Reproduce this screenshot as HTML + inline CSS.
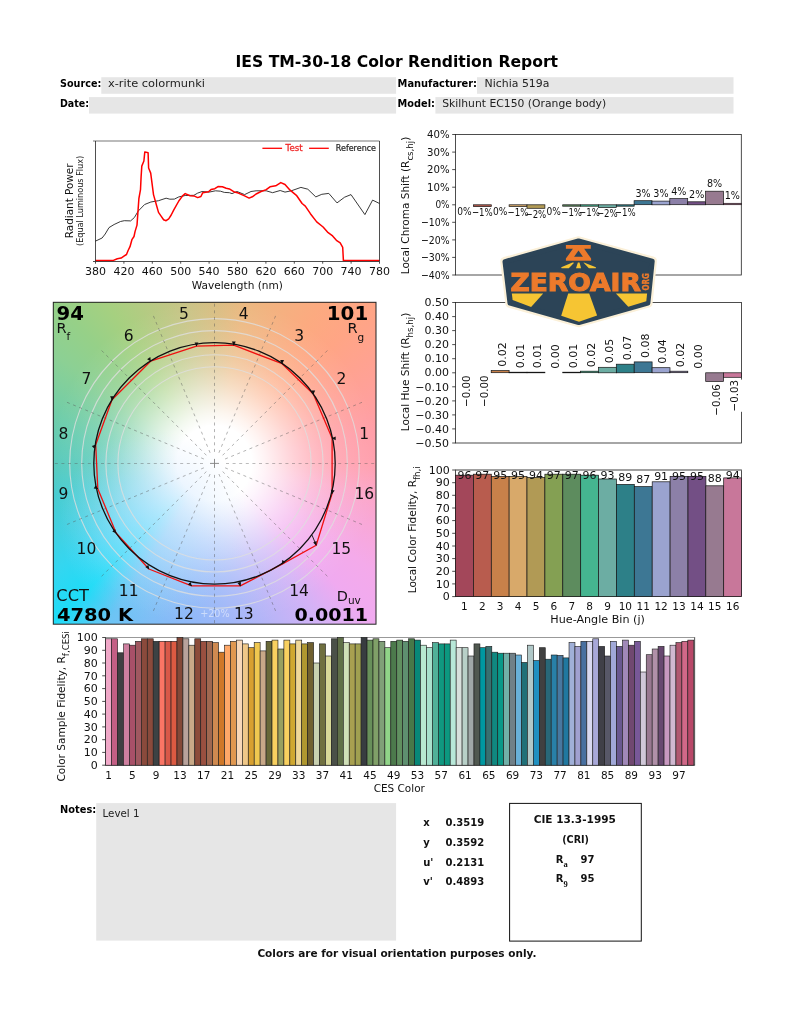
<!DOCTYPE html>
<html lang="en"><head><meta charset="utf-8"><title>IES TM-30-18 Color Rendition Report</title>
<style>
html,body{margin:0;padding:0;background:#fff}
#page{position:relative;width:793px;height:1024px;overflow:hidden;background:#fff;font-family:"DejaVu Sans", "Liberation Sans", sans-serif}
#cvgbg{position:absolute;left:53.3px;top:302.3px;width:322.7px;height:321.9px;
background:
 radial-gradient(circle at 31% 69%, rgba(190,222,255,0.5) 0, rgba(190,222,255,0.38) 12%, rgba(190,222,255,0.15) 22%, rgba(190,222,255,0) 30%),
 radial-gradient(circle at 50% 50%, rgba(255,255,255,1) 0, rgba(255,255,255,1) 16.5%, rgba(255,255,255,0.88) 22%, rgba(255,255,255,0.7) 28.5%, rgba(255,255,255,0.52) 35%, rgba(255,255,255,0.35) 42%, rgba(255,255,255,0.22) 48.3%, rgba(255,255,255,0.12) 55%, rgba(255,255,255,0.05) 63.5%, rgba(255,255,255,0) 72.5%),
 conic-gradient(from 0deg at 50% 50%, #d8be82 0deg, #ecb880 11deg, #fcaa80 34deg, #ffa585 45deg, #ffa290 56deg, #ff9ea8 79deg, #ffa0ae 90deg, #fca6c8 101deg, #f4aaea 124deg, #f0aaf0 135deg, #d4b2f6 146deg, #a8b6f8 169deg, #98b6f8 180deg, #8cb8f8 191deg, #80bef6 202deg, #6cc4f4 214deg, #1edcf7 225deg, #34d6f0 236deg, #42d0e0 247deg, #48ccd0 259deg, #58cabc 270deg, #66ccb0 281deg, #8cd094 304deg, #96d088 315deg, #a6d080 326deg, #c8c486 349deg, #d8be82 360deg);}
svg text{font-family:"DejaVu Sans", "Liberation Sans", sans-serif}
</style></head><body>
<div id="page">
<div id="cvgbg"></div>
<svg width="793" height="1024" viewBox="0 0 793 1024" style="position:absolute;left:0;top:0">
<text x="396.80" y="66.50" font-size="16" font-weight="bold" text-anchor="middle" fill="#000" textLength="322.50" lengthAdjust="spacingAndGlyphs">IES TM-30-18 Color Rendition Report</text>
<rect x="101.3" y="77.2" width="294.8" height="16.6" fill="#e6e6e6"/>
<rect x="89" y="97.1" width="307.1" height="16.5" fill="#e6e6e6"/>
<text x="60.00" y="87.00" font-size="11" font-weight="bold" text-anchor="start" fill="#000" textLength="41.30" lengthAdjust="spacingAndGlyphs">Source:</text>
<text x="60.00" y="106.80" font-size="11" font-weight="bold" text-anchor="start" fill="#000" textLength="29.00" lengthAdjust="spacingAndGlyphs">Date:</text>
<text x="108.00" y="87.00" font-size="11" font-weight="normal" text-anchor="start" fill="#222" textLength="97.00" lengthAdjust="spacingAndGlyphs">x-rite colormunki</text>
<rect x="477" y="77.2" width="256.5" height="16.6" fill="#e6e6e6"/>
<rect x="435.4" y="97.1" width="298.1" height="16.5" fill="#e6e6e6"/>
<text x="397.60" y="87.10" font-size="11" font-weight="bold" text-anchor="start" fill="#000" textLength="79.40" lengthAdjust="spacingAndGlyphs">Manufacturer:</text>
<text x="397.60" y="106.90" font-size="11" font-weight="bold" text-anchor="start" fill="#000" textLength="37.30" lengthAdjust="spacingAndGlyphs">Model:</text>
<text x="484.60" y="87.10" font-size="11" font-weight="normal" text-anchor="start" fill="#222" textLength="64.80" lengthAdjust="spacingAndGlyphs">Nichia 519a</text>
<text x="442.20" y="106.90" font-size="11" font-weight="normal" text-anchor="start" fill="#222" textLength="164.00" lengthAdjust="spacingAndGlyphs">Skilhunt EC150 (Orange body)</text>
<rect x="95.5" y="141.0" width="284.0" height="120.5" fill="#fff" stroke="none"/>
<polyline points="95.3,241.2 102.1,238.0 105.2,234.0 109.0,227.6 114.1,224.5 120.5,221.5 124.3,220.7 130.6,220.9 134.4,217.5 138.2,211.1 144.6,204.5 150.9,202.0 158.5,200.7 166.1,198.2 169.9,199.2 174.4,199.1 178.8,196.9 185.2,195.5 193.9,195.3 197.7,193.1 202.1,191.5 209.1,192.1 215.5,190.8 220.5,191.2 224.3,192.4 229.4,192.7 232.0,193.6 237.0,191.5 244.6,194.6 251.0,191.5 256.1,190.8 266.2,190.8 272.6,192.7 280.2,190.5 285.0,192.1 291.3,190.8 300.9,187.4 307.8,189.2 315.8,196.9 321.8,194.3 328.8,193.4 337.0,202.9 344.6,197.2 351.0,194.6 364.9,214.6 372.6,200.1 379.5,203.5" fill="none" stroke="#222" stroke-width="0.9"/>
<polyline points="95.3,260.6 112.8,260.6 117.3,258.7 121.1,258.1 124.3,255.9 126.5,254.5 128.1,250.5 130.0,246.7 131.9,239.7 134.0,236.5 135.1,231.4 137.0,225.1 138.0,211.1 138.9,198.5 140.5,189.6 141.1,176.9 141.8,166.1 143.9,161.0 144.8,151.9 148.1,152.8 148.6,168.0 150.7,173.1 153.5,194.6 156.0,203.5 158.5,212.4 161.1,216.2 163.6,219.8 166.1,220.7 168.7,218.8 171.2,215.0 173.8,209.9 178.8,201.0 182.6,195.9 185.2,193.6 190.1,195.7 193.9,195.9 197.7,197.6 200.9,196.5 202.8,192.7 208.5,191.7 211.0,189.6 214.8,188.7 218.0,186.6 222.4,186.8 226.2,188.3 229.4,188.9 234.5,192.1 238.3,193.1 244.6,195.9 249.1,198.1 252.3,196.8 256.1,194.0 261.1,191.5 266.2,189.6 270.0,186.8 275.7,185.8 280.8,182.6 285.0,184.5 290.1,190.2 296.4,195.3 302.1,203.5 305.3,206.1 310.4,213.7 316.7,221.9 323.1,227.0 327.5,232.1 332.6,235.9 336.4,240.3 340.2,242.9 342.7,247.3 343.4,260.6 379.5,260.6" fill="none" stroke="#f00" stroke-width="1.5" stroke-linejoin="round"/>
<line x1="93.0" y1="141.0" x2="379.5" y2="141.0" stroke="#a4a4a4" stroke-width="1.6"/>
<path d="M95.5,141.0V261.5H379.5V141.0" fill="none" stroke="#222" stroke-width="0.8"/>
<line x1="93.0" y1="261.5" x2="95.5" y2="261.5" stroke="#222" stroke-width="0.8"/>
<line x1="95.5" y1="261.5" x2="95.5" y2="263.7" stroke="#222" stroke-width="0.8"/>
<text x="95.50" y="275.30" font-size="11" font-weight="normal" text-anchor="middle" fill="#111">380</text>
<line x1="123.9" y1="261.5" x2="123.9" y2="263.7" stroke="#222" stroke-width="0.8"/>
<text x="123.90" y="275.30" font-size="11" font-weight="normal" text-anchor="middle" fill="#111">420</text>
<line x1="152.3" y1="261.5" x2="152.3" y2="263.7" stroke="#222" stroke-width="0.8"/>
<text x="152.30" y="275.30" font-size="11" font-weight="normal" text-anchor="middle" fill="#111">460</text>
<line x1="180.7" y1="261.5" x2="180.7" y2="263.7" stroke="#222" stroke-width="0.8"/>
<text x="180.70" y="275.30" font-size="11" font-weight="normal" text-anchor="middle" fill="#111">500</text>
<line x1="209.1" y1="261.5" x2="209.1" y2="263.7" stroke="#222" stroke-width="0.8"/>
<text x="209.10" y="275.30" font-size="11" font-weight="normal" text-anchor="middle" fill="#111">540</text>
<line x1="237.5" y1="261.5" x2="237.5" y2="263.7" stroke="#222" stroke-width="0.8"/>
<text x="237.50" y="275.30" font-size="11" font-weight="normal" text-anchor="middle" fill="#111">580</text>
<line x1="265.9" y1="261.5" x2="265.9" y2="263.7" stroke="#222" stroke-width="0.8"/>
<text x="265.90" y="275.30" font-size="11" font-weight="normal" text-anchor="middle" fill="#111">620</text>
<line x1="294.3" y1="261.5" x2="294.3" y2="263.7" stroke="#222" stroke-width="0.8"/>
<text x="294.30" y="275.30" font-size="11" font-weight="normal" text-anchor="middle" fill="#111">660</text>
<line x1="322.7" y1="261.5" x2="322.7" y2="263.7" stroke="#222" stroke-width="0.8"/>
<text x="322.70" y="275.30" font-size="11" font-weight="normal" text-anchor="middle" fill="#111">700</text>
<line x1="351.1" y1="261.5" x2="351.1" y2="263.7" stroke="#222" stroke-width="0.8"/>
<text x="351.10" y="275.30" font-size="11" font-weight="normal" text-anchor="middle" fill="#111">740</text>
<line x1="379.5" y1="261.5" x2="379.5" y2="263.7" stroke="#222" stroke-width="0.8"/>
<text x="379.50" y="275.30" font-size="11" font-weight="normal" text-anchor="middle" fill="#111">780</text>
<text x="237.30" y="288.60" font-size="11" font-weight="normal" text-anchor="middle" fill="#111" textLength="91.30" lengthAdjust="spacingAndGlyphs">Wavelength (nm)</text>
<text transform="translate(72.90,200.80) rotate(-90)" font-size="11" font-weight="normal" text-anchor="middle" fill="#111" textLength="74.70" lengthAdjust="spacingAndGlyphs">Radiant Power</text>
<text transform="translate(83.20,200.90) rotate(-90)" font-size="8.5" font-weight="normal" text-anchor="middle" fill="#111" textLength="90.20" lengthAdjust="spacingAndGlyphs">(Equal Luminous Flux)</text>
<line x1="262.4" y1="148.3" x2="282.1" y2="148.3" stroke="#f00" stroke-width="1.3"/>
<text x="285.60" y="151.10" font-size="8.5" font-weight="normal" text-anchor="start" fill="#f02a2a" textLength="17.00" lengthAdjust="spacingAndGlyphs" stroke="#f02a2a" stroke-width="0.3">Test</text>
<line x1="309.1" y1="148.3" x2="328.8" y2="148.3" stroke="#f00" stroke-width="1.3"/>
<text x="335.80" y="151.10" font-size="8.5" font-weight="normal" text-anchor="start" fill="#222" textLength="40.20" lengthAdjust="spacingAndGlyphs" stroke="#222" stroke-width="0.2">Reference</text>
<rect x="455.5" y="134.5" width="285.8" height="140.5" fill="#fff" stroke="#222" stroke-width="0.8"/>
<line x1="452.2" y1="134.5" x2="455.5" y2="134.5" stroke="#222" stroke-width="0.8"/>
<text x="449.60" y="138.20" font-size="11" font-weight="normal" text-anchor="end" fill="#111" textLength="22.60" lengthAdjust="spacingAndGlyphs">40%</text>
<line x1="452.2" y1="152.1" x2="455.5" y2="152.1" stroke="#222" stroke-width="0.8"/>
<text x="449.60" y="155.76" font-size="11" font-weight="normal" text-anchor="end" fill="#111" textLength="22.60" lengthAdjust="spacingAndGlyphs">30%</text>
<line x1="452.2" y1="169.6" x2="455.5" y2="169.6" stroke="#222" stroke-width="0.8"/>
<text x="449.60" y="173.32" font-size="11" font-weight="normal" text-anchor="end" fill="#111" textLength="22.60" lengthAdjust="spacingAndGlyphs">20%</text>
<line x1="452.2" y1="187.2" x2="455.5" y2="187.2" stroke="#222" stroke-width="0.8"/>
<text x="449.60" y="190.89" font-size="11" font-weight="normal" text-anchor="end" fill="#111" textLength="22.60" lengthAdjust="spacingAndGlyphs">10%</text>
<line x1="452.2" y1="204.8" x2="455.5" y2="204.8" stroke="#222" stroke-width="0.8"/>
<text x="449.60" y="208.45" font-size="11" font-weight="normal" text-anchor="end" fill="#111" textLength="14.20" lengthAdjust="spacingAndGlyphs">0%</text>
<line x1="452.2" y1="222.3" x2="455.5" y2="222.3" stroke="#222" stroke-width="0.8"/>
<text x="449.60" y="226.01" font-size="11" font-weight="normal" text-anchor="end" fill="#111" textLength="28.60" lengthAdjust="spacingAndGlyphs">−10%</text>
<line x1="452.2" y1="239.9" x2="455.5" y2="239.9" stroke="#222" stroke-width="0.8"/>
<text x="449.60" y="243.57" font-size="11" font-weight="normal" text-anchor="end" fill="#111" textLength="28.60" lengthAdjust="spacingAndGlyphs">−20%</text>
<line x1="452.2" y1="257.4" x2="455.5" y2="257.4" stroke="#222" stroke-width="0.8"/>
<text x="449.60" y="261.14" font-size="11" font-weight="normal" text-anchor="end" fill="#111" textLength="28.60" lengthAdjust="spacingAndGlyphs">−30%</text>
<line x1="452.2" y1="275.0" x2="455.5" y2="275.0" stroke="#222" stroke-width="0.8"/>
<text x="449.60" y="278.70" font-size="11" font-weight="normal" text-anchor="end" fill="#111" textLength="28.60" lengthAdjust="spacingAndGlyphs">−40%</text>
<text x="464.43" y="214.75" font-size="11" font-weight="normal" text-anchor="middle" fill="#111" textLength="14.40" lengthAdjust="spacingAndGlyphs">0%</text>
<rect x="473.4" y="204.8" width="17.9" height="1.8" fill="#b85c4e" stroke="#151515" stroke-width="0.7"/>
<text x="482.29" y="215.91" font-size="11" font-weight="normal" text-anchor="middle" fill="#111" textLength="20.80" lengthAdjust="spacingAndGlyphs">−1%</text>
<text x="500.16" y="214.75" font-size="11" font-weight="normal" text-anchor="middle" fill="#111" textLength="14.40" lengthAdjust="spacingAndGlyphs">0%</text>
<rect x="509.1" y="204.8" width="17.9" height="1.8" fill="#d8a96a" stroke="#151515" stroke-width="0.7"/>
<text x="518.02" y="215.91" font-size="11" font-weight="normal" text-anchor="middle" fill="#111" textLength="20.80" lengthAdjust="spacingAndGlyphs">−1%</text>
<rect x="527.0" y="204.8" width="17.9" height="3.5" fill="#b19a55" stroke="#151515" stroke-width="0.7"/>
<text x="535.88" y="217.66" font-size="11" font-weight="normal" text-anchor="middle" fill="#111" textLength="20.80" lengthAdjust="spacingAndGlyphs">−2%</text>
<text x="553.74" y="214.75" font-size="11" font-weight="normal" text-anchor="middle" fill="#111" textLength="14.40" lengthAdjust="spacingAndGlyphs">0%</text>
<rect x="562.7" y="204.8" width="17.9" height="1.4" fill="#5d8c5e" stroke="#151515" stroke-width="0.7"/>
<text x="571.61" y="215.56" font-size="11" font-weight="normal" text-anchor="middle" fill="#111" textLength="20.80" lengthAdjust="spacingAndGlyphs">−1%</text>
<rect x="580.5" y="204.8" width="17.9" height="1.4" fill="#45b590" stroke="#151515" stroke-width="0.7"/>
<text x="589.47" y="215.56" font-size="11" font-weight="normal" text-anchor="middle" fill="#111" textLength="20.80" lengthAdjust="spacingAndGlyphs">−1%</text>
<rect x="598.4" y="204.8" width="17.9" height="2.8" fill="#6cada3" stroke="#151515" stroke-width="0.7"/>
<text x="607.33" y="216.96" font-size="11" font-weight="normal" text-anchor="middle" fill="#111" textLength="20.80" lengthAdjust="spacingAndGlyphs">−2%</text>
<rect x="616.3" y="204.8" width="17.9" height="1.4" fill="#2d8088" stroke="#151515" stroke-width="0.7"/>
<text x="625.19" y="215.56" font-size="11" font-weight="normal" text-anchor="middle" fill="#111" textLength="20.80" lengthAdjust="spacingAndGlyphs">−1%</text>
<rect x="634.1" y="200.7" width="17.9" height="4.0" fill="#3d7794" stroke="#151515" stroke-width="0.7"/>
<text x="643.06" y="196.81" font-size="11" font-weight="normal" text-anchor="middle" fill="#111" textLength="15.20" lengthAdjust="spacingAndGlyphs">3%</text>
<rect x="652.0" y="201.1" width="17.9" height="3.7" fill="#9aa3cf" stroke="#151515" stroke-width="0.7"/>
<text x="660.92" y="197.16" font-size="11" font-weight="normal" text-anchor="middle" fill="#111" textLength="15.20" lengthAdjust="spacingAndGlyphs">3%</text>
<rect x="669.8" y="198.6" width="17.9" height="6.1" fill="#8c80a8" stroke="#151515" stroke-width="0.7"/>
<text x="678.78" y="194.70" font-size="11" font-weight="normal" text-anchor="middle" fill="#111" textLength="15.20" lengthAdjust="spacingAndGlyphs">4%</text>
<rect x="687.7" y="201.8" width="17.9" height="3.0" fill="#734f85" stroke="#151515" stroke-width="0.7"/>
<text x="696.64" y="197.86" font-size="11" font-weight="normal" text-anchor="middle" fill="#111" textLength="15.20" lengthAdjust="spacingAndGlyphs">2%</text>
<rect x="705.6" y="191.2" width="17.9" height="13.5" fill="#977a90" stroke="#151515" stroke-width="0.7"/>
<text x="714.51" y="187.33" font-size="11" font-weight="normal" text-anchor="middle" fill="#111" textLength="15.20" lengthAdjust="spacingAndGlyphs">8%</text>
<rect x="723.4" y="203.3" width="17.9" height="1.4" fill="#c8779a" stroke="#151515" stroke-width="0.7"/>
<text x="732.37" y="199.44" font-size="11" font-weight="normal" text-anchor="middle" fill="#111" textLength="15.20" lengthAdjust="spacingAndGlyphs">1%</text>
<text transform="translate(409.00,205.50) rotate(-90)" font-size="11" font-weight="normal" text-anchor="middle" fill="#111" textLength="137.50" lengthAdjust="spacingAndGlyphs">Local Chroma Shift (R<tspan font-size="9" dy="3.6">cs,hj</tspan><tspan dy="-3.6">)</tspan></text>
<rect x="455.5" y="302.5" width="285.9" height="140.5" fill="#fff" stroke="#222" stroke-width="0.8"/>
<line x1="452.2" y1="302.5" x2="455.5" y2="302.5" stroke="#222" stroke-width="0.8"/>
<text x="448.90" y="306.20" font-size="11" font-weight="normal" text-anchor="end" fill="#111">0.50</text>
<line x1="452.2" y1="316.6" x2="455.5" y2="316.6" stroke="#222" stroke-width="0.8"/>
<text x="448.90" y="320.25" font-size="11" font-weight="normal" text-anchor="end" fill="#111">0.40</text>
<line x1="452.2" y1="330.6" x2="455.5" y2="330.6" stroke="#222" stroke-width="0.8"/>
<text x="448.90" y="334.30" font-size="11" font-weight="normal" text-anchor="end" fill="#111">0.30</text>
<line x1="452.2" y1="344.6" x2="455.5" y2="344.6" stroke="#222" stroke-width="0.8"/>
<text x="448.90" y="348.35" font-size="11" font-weight="normal" text-anchor="end" fill="#111">0.20</text>
<line x1="452.2" y1="358.7" x2="455.5" y2="358.7" stroke="#222" stroke-width="0.8"/>
<text x="448.90" y="362.40" font-size="11" font-weight="normal" text-anchor="end" fill="#111">0.10</text>
<line x1="452.2" y1="372.8" x2="455.5" y2="372.8" stroke="#222" stroke-width="0.8"/>
<text x="448.90" y="376.45" font-size="11" font-weight="normal" text-anchor="end" fill="#111">0.00</text>
<line x1="452.2" y1="386.8" x2="455.5" y2="386.8" stroke="#222" stroke-width="0.8"/>
<text x="448.90" y="390.50" font-size="11" font-weight="normal" text-anchor="end" fill="#111">−0.10</text>
<line x1="452.2" y1="400.9" x2="455.5" y2="400.9" stroke="#222" stroke-width="0.8"/>
<text x="448.90" y="404.55" font-size="11" font-weight="normal" text-anchor="end" fill="#111">−0.20</text>
<line x1="452.2" y1="414.9" x2="455.5" y2="414.9" stroke="#222" stroke-width="0.8"/>
<text x="448.90" y="418.60" font-size="11" font-weight="normal" text-anchor="end" fill="#111">−0.30</text>
<line x1="452.2" y1="428.9" x2="455.5" y2="428.9" stroke="#222" stroke-width="0.8"/>
<text x="448.90" y="432.65" font-size="11" font-weight="normal" text-anchor="end" fill="#111">−0.40</text>
<line x1="452.2" y1="443.0" x2="455.5" y2="443.0" stroke="#222" stroke-width="0.8"/>
<text x="448.90" y="446.70" font-size="11" font-weight="normal" text-anchor="end" fill="#111">−0.50</text>
<text transform="translate(469.93,375.55) rotate(-90)" font-size="11" font-weight="normal" text-anchor="end" fill="#111" textLength="31.40" lengthAdjust="spacingAndGlyphs">−0.00</text>
<text transform="translate(487.80,375.55) rotate(-90)" font-size="11" font-weight="normal" text-anchor="end" fill="#111" textLength="31.40" lengthAdjust="spacingAndGlyphs">−0.00</text>
<rect x="491.2" y="370.6" width="17.9" height="2.1" fill="#c8814a" stroke="#151515" stroke-width="0.7"/>
<text transform="translate(505.67,366.64) rotate(-90)" font-size="11" font-weight="normal" text-anchor="start" fill="#111">0.02</text>
<rect x="509.1" y="372.2" width="17.9" height="0.6" fill="#d8a96a" stroke="#151515" stroke-width="0.7"/>
<text transform="translate(523.54,368.19) rotate(-90)" font-size="11" font-weight="normal" text-anchor="start" fill="#111">0.01</text>
<rect x="527.0" y="372.2" width="17.9" height="0.6" fill="#b19a55" stroke="#151515" stroke-width="0.7"/>
<text transform="translate(541.41,368.19) rotate(-90)" font-size="11" font-weight="normal" text-anchor="start" fill="#111">0.01</text>
<text transform="translate(559.28,368.75) rotate(-90)" font-size="11" font-weight="normal" text-anchor="start" fill="#111">0.00</text>
<rect x="562.7" y="372.2" width="17.9" height="0.6" fill="#5d8c5e" stroke="#151515" stroke-width="0.7"/>
<text transform="translate(577.15,368.19) rotate(-90)" font-size="11" font-weight="normal" text-anchor="start" fill="#111">0.01</text>
<rect x="580.6" y="371.2" width="17.9" height="1.5" fill="#45b590" stroke="#151515" stroke-width="0.7"/>
<text transform="translate(595.02,367.20) rotate(-90)" font-size="11" font-weight="normal" text-anchor="start" fill="#111">0.02</text>
<rect x="598.5" y="367.3" width="17.9" height="5.5" fill="#6cada3" stroke="#151515" stroke-width="0.7"/>
<text transform="translate(612.88,363.27) rotate(-90)" font-size="11" font-weight="normal" text-anchor="start" fill="#111">0.05</text>
<rect x="616.3" y="364.2" width="17.9" height="8.6" fill="#2d8088" stroke="#151515" stroke-width="0.7"/>
<text transform="translate(630.75,360.18) rotate(-90)" font-size="11" font-weight="normal" text-anchor="start" fill="#111">0.07</text>
<rect x="634.2" y="361.9" width="17.9" height="10.8" fill="#3d7794" stroke="#151515" stroke-width="0.7"/>
<text transform="translate(648.62,357.93) rotate(-90)" font-size="11" font-weight="normal" text-anchor="start" fill="#111">0.08</text>
<rect x="652.1" y="367.7" width="17.9" height="5.1" fill="#9aa3cf" stroke="#151515" stroke-width="0.7"/>
<text transform="translate(666.49,363.69) rotate(-90)" font-size="11" font-weight="normal" text-anchor="start" fill="#111">0.04</text>
<rect x="669.9" y="371.2" width="17.9" height="1.5" fill="#8c80a8" stroke="#151515" stroke-width="0.7"/>
<text transform="translate(684.36,367.20) rotate(-90)" font-size="11" font-weight="normal" text-anchor="start" fill="#111">0.02</text>
<text transform="translate(702.23,368.75) rotate(-90)" font-size="11" font-weight="normal" text-anchor="start" fill="#111">0.00</text>
<rect x="705.7" y="372.8" width="17.9" height="8.7" fill="#977a90" stroke="#151515" stroke-width="0.7"/>
<text transform="translate(720.10,384.26) rotate(-90)" font-size="11" font-weight="normal" text-anchor="end" fill="#111" textLength="31.40" lengthAdjust="spacingAndGlyphs">−0.06</text>
<rect x="723.5" y="372.8" width="17.9" height="4.5" fill="#c8779a" stroke="#151515" stroke-width="0.7"/>
<rect x="728.5" y="379.6" width="14" height="32.2" fill="#fff"/>
<text transform="translate(737.97,380.05) rotate(-90)" font-size="11" font-weight="normal" text-anchor="end" fill="#111" textLength="31.40" lengthAdjust="spacingAndGlyphs">−0.03</text>
<text transform="translate(409.00,372.00) rotate(-90)" font-size="11" font-weight="normal" text-anchor="middle" fill="#111" textLength="118.50" lengthAdjust="spacingAndGlyphs">Local Hue Shift (R<tspan font-size="9" dy="3.6">hs,hj</tspan><tspan dy="-3.6">)</tspan></text>
<rect x="455.5" y="470.0" width="286.1" height="126.6" fill="#fff" stroke="#222" stroke-width="0.8"/>
<line x1="455.5" y1="470.0" x2="741.6" y2="470.0" stroke="#999" stroke-width="1.2"/>
<line x1="452.2" y1="470.0" x2="455.5" y2="470.0" stroke="#222" stroke-width="0.8"/>
<text x="449.80" y="473.70" font-size="11" font-weight="normal" text-anchor="end" fill="#111">100</text>
<line x1="452.2" y1="482.7" x2="455.5" y2="482.7" stroke="#222" stroke-width="0.8"/>
<text x="449.80" y="486.36" font-size="11" font-weight="normal" text-anchor="end" fill="#111">90</text>
<line x1="452.2" y1="495.3" x2="455.5" y2="495.3" stroke="#222" stroke-width="0.8"/>
<text x="449.80" y="499.02" font-size="11" font-weight="normal" text-anchor="end" fill="#111">80</text>
<line x1="452.2" y1="508.0" x2="455.5" y2="508.0" stroke="#222" stroke-width="0.8"/>
<text x="449.80" y="511.68" font-size="11" font-weight="normal" text-anchor="end" fill="#111">70</text>
<line x1="452.2" y1="520.6" x2="455.5" y2="520.6" stroke="#222" stroke-width="0.8"/>
<text x="449.80" y="524.34" font-size="11" font-weight="normal" text-anchor="end" fill="#111">60</text>
<line x1="452.2" y1="533.3" x2="455.5" y2="533.3" stroke="#222" stroke-width="0.8"/>
<text x="449.80" y="537.00" font-size="11" font-weight="normal" text-anchor="end" fill="#111">50</text>
<line x1="452.2" y1="546.0" x2="455.5" y2="546.0" stroke="#222" stroke-width="0.8"/>
<text x="449.80" y="549.66" font-size="11" font-weight="normal" text-anchor="end" fill="#111">40</text>
<line x1="452.2" y1="558.6" x2="455.5" y2="558.6" stroke="#222" stroke-width="0.8"/>
<text x="449.80" y="562.32" font-size="11" font-weight="normal" text-anchor="end" fill="#111">30</text>
<line x1="452.2" y1="571.3" x2="455.5" y2="571.3" stroke="#222" stroke-width="0.8"/>
<text x="449.80" y="574.98" font-size="11" font-weight="normal" text-anchor="end" fill="#111">20</text>
<line x1="452.2" y1="583.9" x2="455.5" y2="583.9" stroke="#222" stroke-width="0.8"/>
<text x="449.80" y="587.64" font-size="11" font-weight="normal" text-anchor="end" fill="#111">10</text>
<line x1="452.2" y1="596.6" x2="455.5" y2="596.6" stroke="#222" stroke-width="0.8"/>
<text x="449.80" y="600.30" font-size="11" font-weight="normal" text-anchor="end" fill="#111">0</text>
<rect x="455.5" y="475.2" width="17.9" height="121.4" fill="#a3475a" stroke="#151515" stroke-width="0.7"/>
<text x="464.44" y="479.30" font-size="11" font-weight="normal" text-anchor="middle" fill="#111">96</text>
<text x="464.44" y="610.20" font-size="10.5" font-weight="normal" text-anchor="middle" fill="#111">1</text>
<rect x="473.4" y="474.2" width="17.9" height="122.4" fill="#b85c4e" stroke="#151515" stroke-width="0.7"/>
<text x="482.32" y="479.30" font-size="11" font-weight="normal" text-anchor="middle" fill="#111">97</text>
<text x="482.32" y="610.20" font-size="10.5" font-weight="normal" text-anchor="middle" fill="#111">2</text>
<rect x="491.3" y="476.4" width="17.9" height="120.2" fill="#c8814a" stroke="#151515" stroke-width="0.7"/>
<text x="500.20" y="479.30" font-size="11" font-weight="normal" text-anchor="middle" fill="#111">95</text>
<text x="500.20" y="610.20" font-size="10.5" font-weight="normal" text-anchor="middle" fill="#111">3</text>
<rect x="509.1" y="476.4" width="17.9" height="120.2" fill="#d8a96a" stroke="#151515" stroke-width="0.7"/>
<text x="518.08" y="479.30" font-size="11" font-weight="normal" text-anchor="middle" fill="#111">95</text>
<text x="518.08" y="610.20" font-size="10.5" font-weight="normal" text-anchor="middle" fill="#111">4</text>
<rect x="527.0" y="477.4" width="17.9" height="119.2" fill="#b19a55" stroke="#151515" stroke-width="0.7"/>
<text x="535.97" y="479.30" font-size="11" font-weight="normal" text-anchor="middle" fill="#111">94</text>
<text x="535.97" y="610.20" font-size="10.5" font-weight="normal" text-anchor="middle" fill="#111">5</text>
<rect x="544.9" y="474.2" width="17.9" height="122.4" fill="#84a053" stroke="#151515" stroke-width="0.7"/>
<text x="553.85" y="479.30" font-size="11" font-weight="normal" text-anchor="middle" fill="#111">97</text>
<text x="553.85" y="610.20" font-size="10.5" font-weight="normal" text-anchor="middle" fill="#111">6</text>
<rect x="562.8" y="474.2" width="17.9" height="122.4" fill="#5d8c5e" stroke="#151515" stroke-width="0.7"/>
<text x="571.73" y="479.30" font-size="11" font-weight="normal" text-anchor="middle" fill="#111">97</text>
<text x="571.73" y="610.20" font-size="10.5" font-weight="normal" text-anchor="middle" fill="#111">7</text>
<rect x="580.7" y="475.2" width="17.9" height="121.4" fill="#45b590" stroke="#151515" stroke-width="0.7"/>
<text x="589.61" y="479.30" font-size="11" font-weight="normal" text-anchor="middle" fill="#111">96</text>
<text x="589.61" y="610.20" font-size="10.5" font-weight="normal" text-anchor="middle" fill="#111">8</text>
<rect x="598.5" y="479.0" width="17.9" height="117.6" fill="#6cada3" stroke="#151515" stroke-width="0.7"/>
<text x="607.49" y="479.00" font-size="11" font-weight="normal" text-anchor="middle" fill="#111">93</text>
<text x="607.49" y="610.20" font-size="10.5" font-weight="normal" text-anchor="middle" fill="#111">9</text>
<rect x="616.4" y="484.4" width="17.9" height="112.2" fill="#2d8088" stroke="#151515" stroke-width="0.7"/>
<text x="625.37" y="481.00" font-size="11" font-weight="normal" text-anchor="middle" fill="#111">89</text>
<text x="625.37" y="610.20" font-size="10.5" font-weight="normal" text-anchor="middle" fill="#111">10</text>
<rect x="634.3" y="486.6" width="17.9" height="110.0" fill="#3d7794" stroke="#151515" stroke-width="0.7"/>
<text x="643.25" y="482.70" font-size="11" font-weight="normal" text-anchor="middle" fill="#111">87</text>
<text x="643.25" y="610.20" font-size="10.5" font-weight="normal" text-anchor="middle" fill="#111">11</text>
<rect x="652.2" y="481.8" width="17.9" height="114.8" fill="#9aa3cf" stroke="#151515" stroke-width="0.7"/>
<text x="661.13" y="480.10" font-size="11" font-weight="normal" text-anchor="middle" fill="#111">91</text>
<text x="661.13" y="610.20" font-size="10.5" font-weight="normal" text-anchor="middle" fill="#111">12</text>
<rect x="670.1" y="476.4" width="17.9" height="120.2" fill="#8c80a8" stroke="#151515" stroke-width="0.7"/>
<text x="679.02" y="479.50" font-size="11" font-weight="normal" text-anchor="middle" fill="#111">95</text>
<text x="679.02" y="610.20" font-size="10.5" font-weight="normal" text-anchor="middle" fill="#111">13</text>
<rect x="688.0" y="476.4" width="17.9" height="120.2" fill="#734f85" stroke="#151515" stroke-width="0.7"/>
<text x="696.90" y="479.50" font-size="11" font-weight="normal" text-anchor="middle" fill="#111">95</text>
<text x="696.90" y="610.20" font-size="10.5" font-weight="normal" text-anchor="middle" fill="#111">14</text>
<rect x="705.8" y="485.8" width="17.9" height="110.8" fill="#977a90" stroke="#151515" stroke-width="0.7"/>
<text x="714.78" y="481.60" font-size="11" font-weight="normal" text-anchor="middle" fill="#111">88</text>
<text x="714.78" y="610.20" font-size="10.5" font-weight="normal" text-anchor="middle" fill="#111">15</text>
<rect x="723.7" y="477.9" width="17.9" height="118.7" fill="#c8779a" stroke="#151515" stroke-width="0.7"/>
<text x="732.66" y="478.80" font-size="11" font-weight="normal" text-anchor="middle" fill="#111">94</text>
<text x="732.66" y="610.20" font-size="10.5" font-weight="normal" text-anchor="middle" fill="#111">16</text>
<text x="597.60" y="623.40" font-size="11" font-weight="normal" text-anchor="middle" fill="#111" textLength="94.60" lengthAdjust="spacingAndGlyphs">Hue-Angle Bin (j)</text>
<text transform="translate(415.60,529.80) rotate(-90)" font-size="11" font-weight="normal" text-anchor="middle" fill="#111" textLength="127.00" lengthAdjust="spacingAndGlyphs">Local Color Fidelity, R<tspan font-size="9" dy="4">fh,i</tspan></text>
<rect x="105.5" y="637.5" width="589.2" height="127.7" fill="#fff" stroke="#222" stroke-width="0.8"/>
<line x1="105.5" y1="637.5" x2="694.7" y2="637.5" stroke="#999" stroke-width="1.2"/>
<line x1="102.2" y1="637.5" x2="105.5" y2="637.5" stroke="#222" stroke-width="0.8"/>
<text x="97.80" y="641.20" font-size="11" font-weight="normal" text-anchor="end" fill="#111">100</text>
<line x1="102.2" y1="650.3" x2="105.5" y2="650.3" stroke="#222" stroke-width="0.8"/>
<text x="97.80" y="653.97" font-size="11" font-weight="normal" text-anchor="end" fill="#111">90</text>
<line x1="102.2" y1="663.0" x2="105.5" y2="663.0" stroke="#222" stroke-width="0.8"/>
<text x="97.80" y="666.74" font-size="11" font-weight="normal" text-anchor="end" fill="#111">80</text>
<line x1="102.2" y1="675.8" x2="105.5" y2="675.8" stroke="#222" stroke-width="0.8"/>
<text x="97.80" y="679.51" font-size="11" font-weight="normal" text-anchor="end" fill="#111">70</text>
<line x1="102.2" y1="688.6" x2="105.5" y2="688.6" stroke="#222" stroke-width="0.8"/>
<text x="97.80" y="692.28" font-size="11" font-weight="normal" text-anchor="end" fill="#111">60</text>
<line x1="102.2" y1="701.4" x2="105.5" y2="701.4" stroke="#222" stroke-width="0.8"/>
<text x="97.80" y="705.05" font-size="11" font-weight="normal" text-anchor="end" fill="#111">50</text>
<line x1="102.2" y1="714.1" x2="105.5" y2="714.1" stroke="#222" stroke-width="0.8"/>
<text x="97.80" y="717.82" font-size="11" font-weight="normal" text-anchor="end" fill="#111">40</text>
<line x1="102.2" y1="726.9" x2="105.5" y2="726.9" stroke="#222" stroke-width="0.8"/>
<text x="97.80" y="730.59" font-size="11" font-weight="normal" text-anchor="end" fill="#111">30</text>
<line x1="102.2" y1="739.7" x2="105.5" y2="739.7" stroke="#222" stroke-width="0.8"/>
<text x="97.80" y="743.36" font-size="11" font-weight="normal" text-anchor="end" fill="#111">20</text>
<line x1="102.2" y1="752.4" x2="105.5" y2="752.4" stroke="#222" stroke-width="0.8"/>
<text x="97.80" y="756.13" font-size="11" font-weight="normal" text-anchor="end" fill="#111">10</text>
<line x1="102.2" y1="765.2" x2="105.5" y2="765.2" stroke="#222" stroke-width="0.8"/>
<text x="97.80" y="768.90" font-size="11" font-weight="normal" text-anchor="end" fill="#111">0</text>
<rect x="105.70" y="638.8" width="5.94" height="126.4" fill="#f0a8c8" stroke="#1a1a1a" stroke-width="0.6"/>
<text x="108.67" y="778.50" font-size="10.5" font-weight="normal" text-anchor="middle" fill="#111">1</text>
<rect x="111.64" y="638.8" width="5.94" height="126.4" fill="#c45f85" stroke="#1a1a1a" stroke-width="0.6"/>
<rect x="117.58" y="652.8" width="5.94" height="112.4" fill="#404042" stroke="#1a1a1a" stroke-width="0.6"/>
<rect x="123.52" y="643.9" width="5.94" height="121.3" fill="#cf80a0" stroke="#1a1a1a" stroke-width="0.6"/>
<rect x="129.46" y="645.2" width="5.94" height="120.0" fill="#a85068" stroke="#1a1a1a" stroke-width="0.6"/>
<text x="132.43" y="778.50" font-size="10.5" font-weight="normal" text-anchor="middle" fill="#111">5</text>
<rect x="135.40" y="641.3" width="5.94" height="123.9" fill="#a05860" stroke="#1a1a1a" stroke-width="0.6"/>
<rect x="141.34" y="638.8" width="5.94" height="126.4" fill="#8a4a3c" stroke="#1a1a1a" stroke-width="0.6"/>
<rect x="147.28" y="638.8" width="5.94" height="126.4" fill="#8a4a3c" stroke="#1a1a1a" stroke-width="0.6"/>
<rect x="153.22" y="641.3" width="5.94" height="123.9" fill="#3c4244" stroke="#1a1a1a" stroke-width="0.6"/>
<text x="156.19" y="778.50" font-size="10.5" font-weight="normal" text-anchor="middle" fill="#111">9</text>
<rect x="159.16" y="641.3" width="5.94" height="123.9" fill="#fa7565" stroke="#1a1a1a" stroke-width="0.6"/>
<rect x="165.10" y="641.3" width="5.94" height="123.9" fill="#d85848" stroke="#1a1a1a" stroke-width="0.6"/>
<rect x="171.04" y="641.3" width="5.94" height="123.9" fill="#dc5a42" stroke="#1a1a1a" stroke-width="0.6"/>
<rect x="176.98" y="637.5" width="5.94" height="127.7" fill="#844838" stroke="#1a1a1a" stroke-width="0.6"/>
<text x="179.95" y="778.50" font-size="10.5" font-weight="normal" text-anchor="middle" fill="#111">13</text>
<rect x="182.92" y="638.8" width="5.94" height="126.4" fill="#b8a29c" stroke="#1a1a1a" stroke-width="0.6"/>
<rect x="188.86" y="645.2" width="5.94" height="120.0" fill="#c9aa88" stroke="#1a1a1a" stroke-width="0.6"/>
<rect x="194.80" y="638.8" width="5.94" height="126.4" fill="#8c4c3a" stroke="#1a1a1a" stroke-width="0.6"/>
<rect x="200.74" y="641.3" width="5.94" height="123.9" fill="#9a5040" stroke="#1a1a1a" stroke-width="0.6"/>
<text x="203.71" y="778.50" font-size="10.5" font-weight="normal" text-anchor="middle" fill="#111">17</text>
<rect x="206.68" y="641.3" width="5.94" height="123.9" fill="#a06850" stroke="#1a1a1a" stroke-width="0.6"/>
<rect x="212.62" y="642.6" width="5.94" height="122.6" fill="#d08a50" stroke="#1a1a1a" stroke-width="0.6"/>
<rect x="218.56" y="652.2" width="5.94" height="113.0" fill="#d07828" stroke="#1a1a1a" stroke-width="0.6"/>
<rect x="224.50" y="645.2" width="5.94" height="120.0" fill="#ffa868" stroke="#1a1a1a" stroke-width="0.6"/>
<text x="227.47" y="778.50" font-size="10.5" font-weight="normal" text-anchor="middle" fill="#111">21</text>
<rect x="230.44" y="641.3" width="5.94" height="123.9" fill="#e09850" stroke="#1a1a1a" stroke-width="0.6"/>
<rect x="236.38" y="640.1" width="5.94" height="125.1" fill="#f8d8b8" stroke="#1a1a1a" stroke-width="0.6"/>
<rect x="242.32" y="643.9" width="5.94" height="121.3" fill="#f0c888" stroke="#1a1a1a" stroke-width="0.6"/>
<rect x="248.26" y="647.7" width="5.94" height="117.5" fill="#d8a030" stroke="#1a1a1a" stroke-width="0.6"/>
<text x="251.23" y="778.50" font-size="10.5" font-weight="normal" text-anchor="middle" fill="#111">25</text>
<rect x="254.20" y="642.6" width="5.94" height="122.6" fill="#f0c850" stroke="#1a1a1a" stroke-width="0.6"/>
<rect x="260.14" y="650.9" width="5.94" height="114.3" fill="#c8a888" stroke="#1a1a1a" stroke-width="0.6"/>
<rect x="266.08" y="641.3" width="5.94" height="123.9" fill="#686838" stroke="#1a1a1a" stroke-width="0.6"/>
<rect x="272.02" y="640.1" width="5.94" height="125.1" fill="#f8d060" stroke="#1a1a1a" stroke-width="0.6"/>
<text x="274.99" y="778.50" font-size="10.5" font-weight="normal" text-anchor="middle" fill="#111">29</text>
<rect x="277.96" y="649.0" width="5.94" height="116.2" fill="#98a060" stroke="#1a1a1a" stroke-width="0.6"/>
<rect x="283.90" y="640.1" width="5.94" height="125.1" fill="#f8d060" stroke="#1a1a1a" stroke-width="0.6"/>
<rect x="289.84" y="643.9" width="5.94" height="121.3" fill="#d0a830" stroke="#1a1a1a" stroke-width="0.6"/>
<rect x="295.78" y="640.1" width="5.94" height="125.1" fill="#f0d898" stroke="#1a1a1a" stroke-width="0.6"/>
<text x="298.75" y="778.50" font-size="10.5" font-weight="normal" text-anchor="middle" fill="#111">33</text>
<rect x="301.72" y="643.9" width="5.94" height="121.3" fill="#b09830" stroke="#1a1a1a" stroke-width="0.6"/>
<rect x="307.66" y="642.6" width="5.94" height="122.6" fill="#706030" stroke="#1a1a1a" stroke-width="0.6"/>
<rect x="313.60" y="663.0" width="5.94" height="102.2" fill="#c8d0b0" stroke="#1a1a1a" stroke-width="0.6"/>
<rect x="319.54" y="643.9" width="5.94" height="121.3" fill="#707040" stroke="#1a1a1a" stroke-width="0.6"/>
<text x="322.51" y="778.50" font-size="10.5" font-weight="normal" text-anchor="middle" fill="#111">37</text>
<rect x="325.48" y="656.0" width="5.94" height="109.2" fill="#d8d898" stroke="#1a1a1a" stroke-width="0.6"/>
<rect x="331.42" y="638.8" width="5.94" height="126.4" fill="#4a5048" stroke="#1a1a1a" stroke-width="0.6"/>
<rect x="337.36" y="637.5" width="5.94" height="127.7" fill="#607048" stroke="#1a1a1a" stroke-width="0.6"/>
<rect x="343.30" y="642.6" width="5.94" height="122.6" fill="#d0e0b8" stroke="#1a1a1a" stroke-width="0.6"/>
<text x="346.27" y="778.50" font-size="10.5" font-weight="normal" text-anchor="middle" fill="#111">41</text>
<rect x="349.24" y="643.9" width="5.94" height="121.3" fill="#a8a050" stroke="#1a1a1a" stroke-width="0.6"/>
<rect x="355.18" y="643.9" width="5.94" height="121.3" fill="#a0a050" stroke="#1a1a1a" stroke-width="0.6"/>
<rect x="361.12" y="637.5" width="5.94" height="127.7" fill="#383c40" stroke="#1a1a1a" stroke-width="0.6"/>
<rect x="367.06" y="640.1" width="5.94" height="125.1" fill="#68905a" stroke="#1a1a1a" stroke-width="0.6"/>
<text x="370.03" y="778.50" font-size="10.5" font-weight="normal" text-anchor="middle" fill="#111">45</text>
<rect x="373.00" y="638.8" width="5.94" height="126.4" fill="#80a068" stroke="#1a1a1a" stroke-width="0.6"/>
<rect x="378.94" y="641.3" width="5.94" height="123.9" fill="#80a078" stroke="#1a1a1a" stroke-width="0.6"/>
<rect x="384.88" y="647.7" width="5.94" height="117.5" fill="#90d488" stroke="#1a1a1a" stroke-width="0.6"/>
<rect x="390.82" y="641.3" width="5.94" height="123.9" fill="#4c7a4c" stroke="#1a1a1a" stroke-width="0.6"/>
<text x="393.79" y="778.50" font-size="10.5" font-weight="normal" text-anchor="middle" fill="#111">49</text>
<rect x="396.76" y="640.1" width="5.94" height="125.1" fill="#609060" stroke="#1a1a1a" stroke-width="0.6"/>
<rect x="402.70" y="641.3" width="5.94" height="123.9" fill="#5e9070" stroke="#1a1a1a" stroke-width="0.6"/>
<rect x="408.64" y="638.8" width="5.94" height="126.4" fill="#487848" stroke="#1a1a1a" stroke-width="0.6"/>
<rect x="414.58" y="640.1" width="5.94" height="125.1" fill="#088878" stroke="#1a1a1a" stroke-width="0.6"/>
<text x="417.55" y="778.50" font-size="10.5" font-weight="normal" text-anchor="middle" fill="#111">53</text>
<rect x="420.52" y="645.2" width="5.94" height="120.0" fill="#b8e8d0" stroke="#1a1a1a" stroke-width="0.6"/>
<rect x="426.46" y="647.7" width="5.94" height="117.5" fill="#a8e0cc" stroke="#1a1a1a" stroke-width="0.6"/>
<rect x="432.40" y="642.6" width="5.94" height="122.6" fill="#50b098" stroke="#1a1a1a" stroke-width="0.6"/>
<rect x="438.34" y="643.9" width="5.94" height="121.3" fill="#109880" stroke="#1a1a1a" stroke-width="0.6"/>
<text x="441.31" y="778.50" font-size="10.5" font-weight="normal" text-anchor="middle" fill="#111">57</text>
<rect x="444.28" y="643.9" width="5.94" height="121.3" fill="#0c9880" stroke="#1a1a1a" stroke-width="0.6"/>
<rect x="450.22" y="640.1" width="5.94" height="125.1" fill="#b8e8d8" stroke="#1a1a1a" stroke-width="0.6"/>
<rect x="456.16" y="647.7" width="5.94" height="117.5" fill="#d8e0dc" stroke="#1a1a1a" stroke-width="0.6"/>
<rect x="462.10" y="647.7" width="5.94" height="117.5" fill="#b8d0c8" stroke="#1a1a1a" stroke-width="0.6"/>
<text x="465.07" y="778.50" font-size="10.5" font-weight="normal" text-anchor="middle" fill="#111">61</text>
<rect x="468.04" y="656.0" width="5.94" height="109.2" fill="#a0a8a8" stroke="#1a1a1a" stroke-width="0.6"/>
<rect x="473.98" y="643.9" width="5.94" height="121.3" fill="#505850" stroke="#1a1a1a" stroke-width="0.6"/>
<rect x="479.92" y="647.7" width="5.94" height="117.5" fill="#0098a0" stroke="#1a1a1a" stroke-width="0.6"/>
<rect x="485.86" y="646.4" width="5.94" height="118.8" fill="#387070" stroke="#1a1a1a" stroke-width="0.6"/>
<text x="488.83" y="778.50" font-size="10.5" font-weight="normal" text-anchor="middle" fill="#111">65</text>
<rect x="491.80" y="652.2" width="5.94" height="113.0" fill="#108880" stroke="#1a1a1a" stroke-width="0.6"/>
<rect x="497.74" y="653.2" width="5.94" height="112.0" fill="#089888" stroke="#1a1a1a" stroke-width="0.6"/>
<rect x="503.68" y="653.2" width="5.94" height="112.0" fill="#70b0a8" stroke="#1a1a1a" stroke-width="0.6"/>
<rect x="509.62" y="653.2" width="5.94" height="112.0" fill="#708088" stroke="#1a1a1a" stroke-width="0.6"/>
<text x="512.59" y="778.50" font-size="10.5" font-weight="normal" text-anchor="middle" fill="#111">69</text>
<rect x="515.56" y="655.0" width="5.94" height="110.2" fill="#68b0d8" stroke="#1a1a1a" stroke-width="0.6"/>
<rect x="521.50" y="662.4" width="5.94" height="102.8" fill="#207078" stroke="#1a1a1a" stroke-width="0.6"/>
<rect x="527.44" y="645.2" width="5.94" height="120.0" fill="#b0c8c8" stroke="#1a1a1a" stroke-width="0.6"/>
<rect x="533.38" y="660.5" width="5.94" height="104.7" fill="#2090c0" stroke="#1a1a1a" stroke-width="0.6"/>
<text x="536.35" y="778.50" font-size="10.5" font-weight="normal" text-anchor="middle" fill="#111">73</text>
<rect x="539.32" y="647.7" width="5.94" height="117.5" fill="#404040" stroke="#1a1a1a" stroke-width="0.6"/>
<rect x="545.26" y="659.2" width="5.94" height="106.0" fill="#286878" stroke="#1a1a1a" stroke-width="0.6"/>
<rect x="551.20" y="655.0" width="5.94" height="110.2" fill="#2880a8" stroke="#1a1a1a" stroke-width="0.6"/>
<rect x="557.14" y="655.4" width="5.94" height="109.8" fill="#4878a0" stroke="#1a1a1a" stroke-width="0.6"/>
<text x="560.11" y="778.50" font-size="10.5" font-weight="normal" text-anchor="middle" fill="#111">77</text>
<rect x="563.08" y="657.9" width="5.94" height="107.3" fill="#2078a0" stroke="#1a1a1a" stroke-width="0.6"/>
<rect x="569.02" y="642.6" width="5.94" height="122.6" fill="#a0b0d8" stroke="#1a1a1a" stroke-width="0.6"/>
<rect x="574.96" y="646.4" width="5.94" height="118.8" fill="#a0a0d0" stroke="#1a1a1a" stroke-width="0.6"/>
<rect x="580.90" y="641.3" width="5.94" height="123.9" fill="#4870a0" stroke="#1a1a1a" stroke-width="0.6"/>
<text x="583.87" y="778.50" font-size="10.5" font-weight="normal" text-anchor="middle" fill="#111">81</text>
<rect x="586.84" y="641.3" width="5.94" height="123.9" fill="#d8d8f0" stroke="#1a1a1a" stroke-width="0.6"/>
<rect x="592.78" y="638.8" width="5.94" height="126.4" fill="#a8a8d8" stroke="#1a1a1a" stroke-width="0.6"/>
<rect x="598.72" y="646.4" width="5.94" height="118.8" fill="#404048" stroke="#1a1a1a" stroke-width="0.6"/>
<rect x="604.66" y="656.0" width="5.94" height="109.2" fill="#585868" stroke="#1a1a1a" stroke-width="0.6"/>
<text x="607.63" y="778.50" font-size="10.5" font-weight="normal" text-anchor="middle" fill="#111">85</text>
<rect x="610.60" y="641.3" width="5.94" height="123.9" fill="#a0a8d8" stroke="#1a1a1a" stroke-width="0.6"/>
<rect x="616.54" y="646.4" width="5.94" height="118.8" fill="#685890" stroke="#1a1a1a" stroke-width="0.6"/>
<rect x="622.48" y="640.1" width="5.94" height="125.1" fill="#a088b8" stroke="#1a1a1a" stroke-width="0.6"/>
<rect x="628.42" y="645.2" width="5.94" height="120.0" fill="#704870" stroke="#1a1a1a" stroke-width="0.6"/>
<text x="631.39" y="778.50" font-size="10.5" font-weight="normal" text-anchor="middle" fill="#111">89</text>
<rect x="634.36" y="641.3" width="5.94" height="123.9" fill="#785898" stroke="#1a1a1a" stroke-width="0.6"/>
<rect x="640.30" y="672.0" width="5.94" height="93.2" fill="#d0c8d8" stroke="#1a1a1a" stroke-width="0.6"/>
<rect x="646.24" y="654.7" width="5.94" height="110.5" fill="#987890" stroke="#1a1a1a" stroke-width="0.6"/>
<rect x="652.18" y="649.0" width="5.94" height="116.2" fill="#b090a8" stroke="#1a1a1a" stroke-width="0.6"/>
<text x="655.15" y="778.50" font-size="10.5" font-weight="normal" text-anchor="middle" fill="#111">93</text>
<rect x="658.12" y="646.4" width="5.94" height="118.8" fill="#684870" stroke="#1a1a1a" stroke-width="0.6"/>
<rect x="664.06" y="656.0" width="5.94" height="109.2" fill="#c898c0" stroke="#1a1a1a" stroke-width="0.6"/>
<rect x="670.00" y="645.2" width="5.94" height="120.0" fill="#d0b8d0" stroke="#1a1a1a" stroke-width="0.6"/>
<rect x="675.94" y="642.6" width="5.94" height="122.6" fill="#b05870" stroke="#1a1a1a" stroke-width="0.6"/>
<text x="678.91" y="778.50" font-size="10.5" font-weight="normal" text-anchor="middle" fill="#111">97</text>
<rect x="681.88" y="641.3" width="5.94" height="123.9" fill="#d06888" stroke="#1a1a1a" stroke-width="0.6"/>
<rect x="687.82" y="640.1" width="5.94" height="125.1" fill="#b84868" stroke="#1a1a1a" stroke-width="0.6"/>
<text x="399.30" y="792.20" font-size="11" font-weight="normal" text-anchor="middle" fill="#111" textLength="51.20" lengthAdjust="spacingAndGlyphs">CES Color</text>
<text transform="translate(64.80,706.30) rotate(-90)" font-size="11" font-weight="normal" text-anchor="middle" fill="#111" textLength="150.60" lengthAdjust="spacingAndGlyphs">Color Sample Fidelity, R<tspan font-size="9" dy="4">f,CESi</tspan></text>
<circle cx="214.5" cy="463.4" r="96.6" fill="none" stroke="#dedede" stroke-width="1.1" opacity="0.8"/>
<circle cx="214.5" cy="463.4" r="108.6" fill="none" stroke="#dedede" stroke-width="1.1" opacity="0.8"/>
<circle cx="214.5" cy="463.4" r="132.8" fill="none" stroke="#dedede" stroke-width="1.1" opacity="0.8"/>
<circle cx="214.5" cy="463.4" r="144.8" fill="none" stroke="#dedede" stroke-width="1.1" opacity="0.8"/>
<line x1="226.0" y1="463.4" x2="374.5" y2="463.4" stroke="#555" stroke-width="0.6" stroke-dasharray="3,3.6" opacity="0.75"/>
<line x1="225.1" y1="459.0" x2="362.3" y2="402.2" stroke="#555" stroke-width="0.6" stroke-dasharray="3,3.6" opacity="0.75"/>
<line x1="222.6" y1="455.3" x2="327.6" y2="350.3" stroke="#555" stroke-width="0.6" stroke-dasharray="3,3.6" opacity="0.75"/>
<line x1="218.9" y1="452.8" x2="275.7" y2="315.6" stroke="#555" stroke-width="0.6" stroke-dasharray="3,3.6" opacity="0.75"/>
<line x1="214.5" y1="451.9" x2="214.5" y2="303.4" stroke="#555" stroke-width="0.6" stroke-dasharray="3,3.6" opacity="0.75"/>
<line x1="210.1" y1="452.8" x2="153.3" y2="315.6" stroke="#555" stroke-width="0.6" stroke-dasharray="3,3.6" opacity="0.75"/>
<line x1="206.4" y1="455.3" x2="101.4" y2="350.3" stroke="#555" stroke-width="0.6" stroke-dasharray="3,3.6" opacity="0.75"/>
<line x1="203.9" y1="459.0" x2="66.7" y2="402.2" stroke="#555" stroke-width="0.6" stroke-dasharray="3,3.6" opacity="0.75"/>
<line x1="203.0" y1="463.4" x2="54.5" y2="463.4" stroke="#555" stroke-width="0.6" stroke-dasharray="3,3.6" opacity="0.75"/>
<line x1="203.9" y1="467.8" x2="66.7" y2="524.6" stroke="#555" stroke-width="0.6" stroke-dasharray="3,3.6" opacity="0.75"/>
<line x1="206.4" y1="471.5" x2="101.4" y2="576.5" stroke="#555" stroke-width="0.6" stroke-dasharray="3,3.6" opacity="0.75"/>
<line x1="210.1" y1="474.0" x2="153.3" y2="611.2" stroke="#555" stroke-width="0.6" stroke-dasharray="3,3.6" opacity="0.75"/>
<line x1="214.5" y1="474.9" x2="214.5" y2="623.4" stroke="#555" stroke-width="0.6" stroke-dasharray="3,3.6" opacity="0.75"/>
<line x1="218.9" y1="474.0" x2="275.7" y2="611.2" stroke="#555" stroke-width="0.6" stroke-dasharray="3,3.6" opacity="0.75"/>
<line x1="222.6" y1="471.5" x2="327.6" y2="576.5" stroke="#555" stroke-width="0.6" stroke-dasharray="3,3.6" opacity="0.75"/>
<line x1="225.1" y1="467.8" x2="362.3" y2="524.6" stroke="#555" stroke-width="0.6" stroke-dasharray="3,3.6" opacity="0.75"/>
<path d="M210.0,463.4h9M214.5,458.9v9" stroke="#808080" stroke-width="0.9"/>
<text x="214.90" y="617.20" font-size="10" font-weight="normal" text-anchor="middle" fill="#fff" textLength="29.50" lengthAdjust="spacingAndGlyphs" opacity="0.5">+20%</text>
<polygon points="332.1,438.3 313.3,394.0 282.1,363.7 233.8,345.2 196.5,346.1 150.6,361.2 112.0,399.8 95.7,444.8 97.8,488.7 116.1,533.0 148.9,569.0 191.6,585.9 240.3,585.9 282.1,564.1 316.2,545.2 332.1,493.6" fill="none" stroke="#f01010" stroke-width="1.3" stroke-linejoin="round"/>
<circle cx="214.5" cy="463.4" r="120.7" fill="none" stroke="#111" stroke-width="1.3"/>
<line x1="333.8" y1="438.3" x2="332.1" y2="438.3" stroke="#111" stroke-width="0.9"/>
<polygon points="331.6,438.3 335.7,436.4 335.7,440.2" fill="#111"/>
<line x1="313.3" y1="392.4" x2="313.3" y2="394.0" stroke="#111" stroke-width="0.9"/>
<polygon points="313.3,394.5 311.4,390.4 315.2,390.4" fill="#111"/>
<line x1="282.1" y1="362.9" x2="282.1" y2="363.7" stroke="#111" stroke-width="0.9"/>
<polygon points="282.1,364.2 280.2,360.1 284.0,360.1" fill="#111"/>
<line x1="233.8" y1="342.9" x2="233.8" y2="345.2" stroke="#111" stroke-width="0.9"/>
<polygon points="233.8,345.7 231.9,341.6 235.7,341.6" fill="#111"/>
<line x1="196.5" y1="344.5" x2="196.5" y2="346.1" stroke="#111" stroke-width="0.9"/>
<polygon points="196.5,346.6 194.6,342.5 198.4,342.5" fill="#111"/>
<line x1="150.6" y1="360.9" x2="150.6" y2="361.2" stroke="#111" stroke-width="0.9"/>
<polygon points="150.9,361.6 147.1,359.2 150.3,357.1" fill="#111"/>
<line x1="112.0" y1="398.1" x2="112.0" y2="399.8" stroke="#111" stroke-width="0.9"/>
<polygon points="112.0,400.3 110.1,396.2 113.9,396.2" fill="#111"/>
<line x1="94.8" y1="445.7" x2="95.7" y2="444.8" stroke="#111" stroke-width="0.9"/>
<polygon points="96.1,444.4 94.5,448.7 91.8,446.0" fill="#111"/>
<line x1="96.5" y1="487.9" x2="97.8" y2="488.7" stroke="#111" stroke-width="0.9"/>
<polygon points="98.2,489.0 93.7,488.4 95.7,485.2" fill="#111"/>
<line x1="115.3" y1="532.1" x2="116.1" y2="533.0" stroke="#111" stroke-width="0.9"/>
<polygon points="116.4,533.4 112.3,531.6 115.1,529.0" fill="#111"/>
<line x1="147.3" y1="566.6" x2="148.9" y2="569.0" stroke="#111" stroke-width="0.9"/>
<polygon points="149.2,569.4 145.3,567.1 148.5,565.0" fill="#111"/>
<line x1="189.1" y1="583.0" x2="191.6" y2="585.9" stroke="#111" stroke-width="0.9"/>
<polygon points="191.9,586.3 187.8,584.4 190.7,581.9" fill="#111"/>
<line x1="239.2" y1="582.1" x2="240.3" y2="585.9" stroke="#111" stroke-width="0.9"/>
<polygon points="240.4,586.4 237.5,583.0 241.1,581.9" fill="#111"/>
<line x1="283.0" y1="562.5" x2="282.1" y2="564.1" stroke="#111" stroke-width="0.9"/>
<polygon points="281.9,564.5 282.2,560.0 285.5,561.9" fill="#111"/>
<line x1="312.0" y1="535.1" x2="316.2" y2="545.2" stroke="#111" stroke-width="0.9"/>
<polygon points="316.4,545.7 313.1,542.6 316.6,541.1" fill="#111"/>
<line x1="332.6" y1="491.1" x2="332.1" y2="493.6" stroke="#111" stroke-width="0.9"/>
<polygon points="332.0,494.1 330.9,489.7 334.7,490.4" fill="#111"/>
<text x="364.25" y="438.99" font-size="15.5" font-weight="normal" text-anchor="middle" fill="#111">1</text>
<text x="341.36" y="383.73" font-size="15.5" font-weight="normal" text-anchor="middle" fill="#111">2</text>
<text x="299.07" y="341.44" font-size="15.5" font-weight="normal" text-anchor="middle" fill="#111">3</text>
<text x="243.81" y="318.55" font-size="15.5" font-weight="normal" text-anchor="middle" fill="#111">4</text>
<text x="183.99" y="318.55" font-size="15.5" font-weight="normal" text-anchor="middle" fill="#111">5</text>
<text x="128.73" y="341.44" font-size="15.5" font-weight="normal" text-anchor="middle" fill="#111">6</text>
<text x="86.44" y="383.73" font-size="15.5" font-weight="normal" text-anchor="middle" fill="#111">7</text>
<text x="63.55" y="438.99" font-size="15.5" font-weight="normal" text-anchor="middle" fill="#111">8</text>
<text x="63.55" y="498.81" font-size="15.5" font-weight="normal" text-anchor="middle" fill="#111">9</text>
<text x="86.44" y="554.07" font-size="15.5" font-weight="normal" text-anchor="middle" fill="#111">10</text>
<text x="128.73" y="596.36" font-size="15.5" font-weight="normal" text-anchor="middle" fill="#111">11</text>
<text x="183.99" y="619.25" font-size="15.5" font-weight="normal" text-anchor="middle" fill="#111">12</text>
<text x="243.81" y="619.25" font-size="15.5" font-weight="normal" text-anchor="middle" fill="#111">13</text>
<text x="299.07" y="596.36" font-size="15.5" font-weight="normal" text-anchor="middle" fill="#111">14</text>
<text x="341.36" y="554.07" font-size="15.5" font-weight="normal" text-anchor="middle" fill="#111">15</text>
<text x="364.25" y="498.81" font-size="15.5" font-weight="normal" text-anchor="middle" fill="#111">16</text>
<rect x="53.3" y="302.3" width="322.7" height="321.9" fill="none" stroke="#222" stroke-width="1"/>
<text x="56.50" y="320.10" font-size="19.8" font-weight="bold" text-anchor="start" fill="#000" textLength="27.40" lengthAdjust="spacingAndGlyphs">94</text>
<text x="56.50" y="333.30" font-size="14.5" font-weight="normal" text-anchor="start" fill="#111">R<tspan font-size="10.5" dy="6.6">f</tspan></text>
<text x="368.20" y="320.20" font-size="19.8" font-weight="bold" text-anchor="end" fill="#000" textLength="41.40" lengthAdjust="spacingAndGlyphs">101</text>
<text x="347.40" y="333.30" font-size="14.5" font-weight="normal" text-anchor="start" fill="#111">R<tspan font-size="10.5" dy="8">g</tspan></text>
<text x="56.30" y="600.80" font-size="15" font-weight="normal" text-anchor="start" fill="#111" textLength="32.60" lengthAdjust="spacingAndGlyphs">CCT</text>
<text x="57.00" y="621.00" font-size="18.5" font-weight="bold" text-anchor="start" fill="#000" textLength="76.00" lengthAdjust="spacingAndGlyphs">4780 K</text>
<text x="336.80" y="600.50" font-size="14.5" font-weight="normal" text-anchor="start" fill="#111">D<tspan font-size="10.5" dy="3.2">uv</tspan></text>
<text x="368.00" y="621.00" font-size="18.5" font-weight="bold" text-anchor="end" fill="#000" textLength="73.60" lengthAdjust="spacingAndGlyphs">0.0011</text>
<polygon points="578.5,241.1 652.1,261.2 647.8,302.9 578.8,322.4 510.1,303.1 505.1,261.7" fill="#2c4457" stroke="#fbf0d8" stroke-width="9.6" stroke-linejoin="round"/>
<polygon points="578.5,241.1 652.1,261.2 647.8,302.9 578.8,322.4 510.1,303.1 505.1,261.7" fill="#2c4457" stroke="#2c4457" stroke-width="5.2" stroke-linejoin="round"/>
<polygon points="511.8,293.5 543.2,293.5 531.1,306.9 512.6,300" fill="#f6c533"/>
<polygon points="615.9,293.5 647.1,293.5 646.3,301.2 628.3,306.8" fill="#f6c533"/>
<polygon points="568.2,293.5 589.2,293.5 597.1,315.5 579,321.7 561.2,315.8" fill="#f6c533"/>
<path d="M565.9,244.9H590.8V248.7H584.2L591.1,258.6V260.8H565.9V258.6L572.9,248.7H565.9Z M578.5,250.4L574.1,256.7H582.9Z" fill="#ec7a2b" fill-rule="evenodd"/>
<polygon points="561.2,267.2 572.5,262.5 574.1,262.8 568.8,268.3 561.5,268.3" fill="#f6c533"/>
<polygon points="576,268.2 577.9,262.4 579.5,262.4 581.1,268.2" fill="#f6c533"/>
<polygon points="583.9,262.5 595.9,267.3 595.9,268.3 588.9,268.3 583.6,262.8" fill="#f6c533"/>
<text x="510.50" y="290.60" font-size="25" font-weight="bold" text-anchor="start" fill="#ec7a2b" textLength="130.30" lengthAdjust="spacingAndGlyphs" font-family='"Liberation Sans", sans-serif' stroke="#ec7a2b" stroke-width="1.1">ZEROAIR</text>
<text transform="translate(649.3,290.6) rotate(-90)" font-size="8.6" font-weight="bold" fill="#ec7a2b" textLength="17.4" lengthAdjust="spacingAndGlyphs" font-family='"Liberation Sans", sans-serif' stroke="#ec7a2b" stroke-width="0.4">ORG</text>
<rect x="96.2" y="803.1" width="299.9" height="137.5" fill="#e6e6e6"/>
<text x="60.10" y="813.20" font-size="11" font-weight="bold" text-anchor="start" fill="#000" textLength="36.10" lengthAdjust="spacingAndGlyphs">Notes:</text>
<text x="102.50" y="816.90" font-size="10.5" font-weight="normal" text-anchor="start" fill="#222" textLength="37.00" lengthAdjust="spacingAndGlyphs">Level 1</text>
<rect x="509.6" y="803.4" width="131.7" height="137.7" fill="#fff" stroke="#111" stroke-width="1"/>
<text x="423.20" y="826.20" font-size="10" font-weight="bold" text-anchor="start" fill="#111">x</text>
<text x="484.10" y="826.20" font-size="10" font-weight="bold" text-anchor="end" fill="#111">0.3519</text>
<text x="423.20" y="845.90" font-size="10" font-weight="bold" text-anchor="start" fill="#111">y</text>
<text x="484.10" y="845.90" font-size="10" font-weight="bold" text-anchor="end" fill="#111">0.3592</text>
<text x="423.20" y="865.60" font-size="10" font-weight="bold" text-anchor="start" fill="#111">u'</text>
<text x="484.10" y="865.60" font-size="10" font-weight="bold" text-anchor="end" fill="#111">0.2131</text>
<text x="423.20" y="885.30" font-size="10" font-weight="bold" text-anchor="start" fill="#111">v'</text>
<text x="484.10" y="885.30" font-size="10" font-weight="bold" text-anchor="end" fill="#111">0.4893</text>
<text x="574.80" y="822.50" font-size="10" font-weight="bold" text-anchor="middle" fill="#111" textLength="82.30" lengthAdjust="spacingAndGlyphs">CIE 13.3-1995</text>
<text x="575.60" y="843.00" font-size="10" font-weight="bold" text-anchor="middle" fill="#111" textLength="26.80" lengthAdjust="spacingAndGlyphs">(CRI)</text>
<text x="555.80" y="862.70" font-size="10" font-weight="bold" text-anchor="start" fill="#111">R<tspan font-size="8.5" dy="4.6" font-family="Liberation Serif, serif">a</tspan></text>
<text x="580.60" y="862.70" font-size="10" font-weight="bold" text-anchor="start" fill="#111">97</text>
<text x="555.80" y="882.40" font-size="10" font-weight="bold" text-anchor="start" fill="#111">R<tspan font-size="8.5" dy="4.6" font-family="Liberation Serif, serif">9</tspan></text>
<text x="580.60" y="882.40" font-size="10" font-weight="bold" text-anchor="start" fill="#111">95</text>
<text x="396.90" y="957.40" font-size="10.5" font-weight="bold" text-anchor="middle" fill="#111" textLength="279.00" lengthAdjust="spacingAndGlyphs">Colors are for visual orientation purposes only.</text>
</svg>
</div>
</body></html>
